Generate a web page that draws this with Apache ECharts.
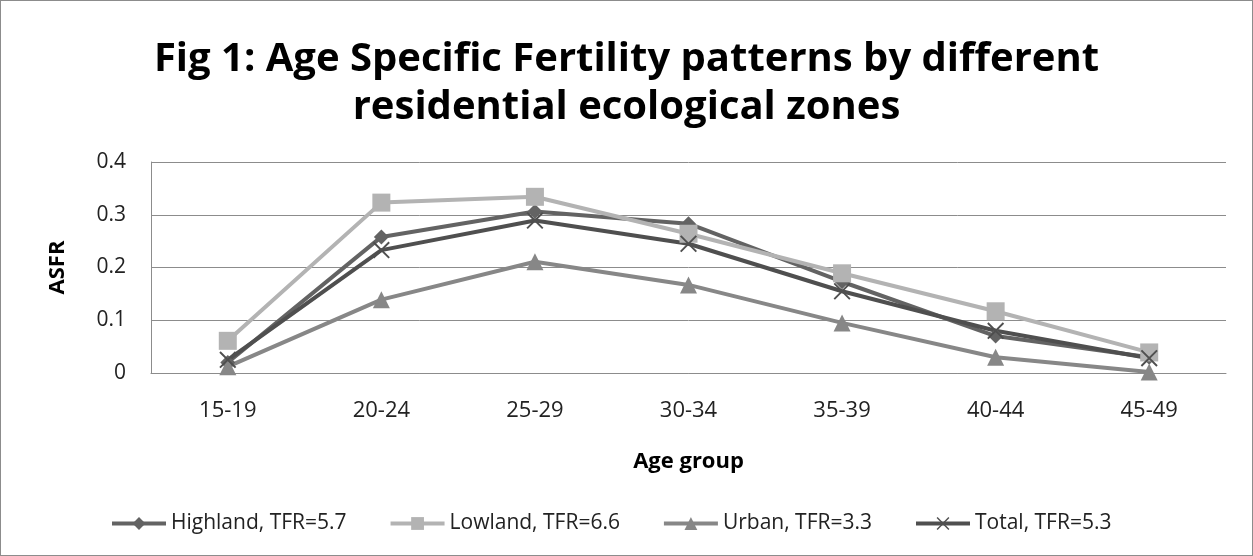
<!DOCTYPE html>
<html>
<head>
<meta charset="utf-8">
<script src="https://cdn.jsdelivr.net/npm/echarts@6/dist/echarts.min.js"></script>
<style>
  html, body { margin: 0; padding: 0; background: #fff; }
  #main { width: 1253px; height: 556px; box-sizing: border-box; border: 1px solid #8c8c8c; }
</style>
</head>
<body>
<div id="main"></div>
<script>
  let ageGroups = ['15-19', '20-24', '25-29', '30-34', '35-39', '40-44', '45-49'];
  let highland = [0.020, 0.258, 0.306, 0.283, 0.173, 0.070, 0.030];
  let lowland = [0.061, 0.323, 0.334, 0.264, 0.189, 0.117, 0.039];
  let urban = [0.012, 0.139, 0.211, 0.167, 0.095, 0.030, 0.002];
  let total = [0.025, 0.233, 0.289, 0.245, 0.155, 0.080, 0.028];
  let yTicks = [0, 0.1, 0.2, 0.3, 0.4];

  let font = 'Open Sans';
  let crossPath = 'path://M0,0.8L0.8,0L10,9.2L9.2,10ZM9.2,0L10,0.8L0.8,10L0,9.2Z';

  let myChart = echarts.init(document.getElementById('main'));

  function makeSeries(name, data, color, symbol, size) {
    return {
      name: name,
      type: 'line',
      data: data,
      symbol: symbol,
      symbolSize: size,
      showAllSymbol: true,
      lineStyle: { color: color, width: 4 },
      itemStyle: { color: color },
      emphasis: { disabled: true }
    };
  }

  let option = {
    animation: false,
    title: {
      text: 'Fig 1: Age Specific Fertility patterns by different\nresidential ecological zones',
      left: 'center',
      top: 30,
      textStyle: {
        fontFamily: font,
        fontWeight: 'bold',
        fontSize: 40,
        lineHeight: 48,
        color: '#000'
      }
    },
    legend: {
      bottom: 16,
      left: 104,
      itemWidth: 54,
      itemHeight: 16,
      itemGap: 42,
      lineStyle: { width: 4 },
      textStyle: { fontFamily: font, fontSize: 21, color: '#222' },
      data: ['Highland, TFR=5.7', 'Lowland, TFR=6.6', 'Urban, TFR=3.3', 'Total, TFR=5.3']
    },
    grid: {
      left: 150,
      right: 26,
      top: 161,
      bottom: 182
    },
    xAxis: {
      type: 'category',
      data: ageGroups,
      name: 'Age group',
      nameLocation: 'middle',
      nameGap: 78,
      nameTextStyle: { fontFamily: font, fontWeight: 'bold', fontSize: 22, color: '#000' },
      axisLine: { lineStyle: { color: '#8c8c8c', width: 1 } },
      axisTick: { show: false },
      axisLabel: { fontFamily: font, fontSize: 22, color: '#222', margin: 27 }
    },
    yAxis: {
      type: 'value',
      min: yTicks[0],
      max: yTicks[yTicks.length - 1],
      interval: 0.1,
      name: 'ASFR',
      nameLocation: 'middle',
      nameRotate: 90,
      nameGap: 82,
      nameTextStyle: { fontFamily: font, fontWeight: 'bold', fontSize: 22, color: '#000' },
      axisLine: { show: true, lineStyle: { color: '#8c8c8c', width: 1 } },
      axisTick: { show: false },
      splitLine: { lineStyle: { color: '#8c8c8c', width: 1 } },
      axisLabel: {
        fontFamily: font, fontSize: 21, color: '#222', margin: 25,
        formatter: function (v) { return v === 0 ? '0' : v.toFixed(1); }
      }
    },
    series: [
      makeSeries('Highland, TFR=5.7', highland, '#636363', 'diamond', 15),
      makeSeries('Lowland, TFR=6.6', lowland, '#b3b3b3', 'rect', 18),
      makeSeries('Urban, TFR=3.3', urban, '#878787', 'triangle', 17),
      makeSeries('Total, TFR=5.3', total, '#4f4f4f', crossPath, 17)
    ]
  };

  myChart.setOption(option);
</script>
</body>
</html>
